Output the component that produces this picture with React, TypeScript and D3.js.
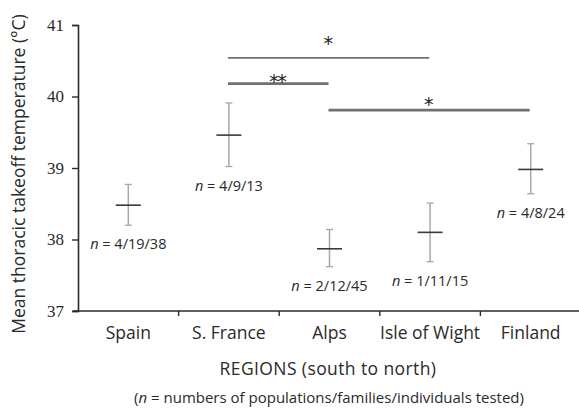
import React, { useEffect, useRef } from 'react';
import * as d3 from 'd3';

const regions = ['Spain', 'S. France', 'Alps', 'Isle of Wight', 'Finland'];
const means = [38.48, 39.46, 37.87, 38.1, 38.98];
const lowers = [38.2, 39.02, 37.62, 37.69, 38.64];
const uppers = [38.77, 39.91, 38.14, 38.51, 39.34];
const sampleLabels = ['4/19/38', '4/9/13', '2/12/45', '1/11/15', '4/8/24'];
const yTicks = [37, 38, 39, 40, 41];

// significance brackets: from region, to region, level, stars
const sigFrom = ['S. France', 'S. France', 'Alps'];
const sigTo = ['Isle of Wight', 'Alps', 'Finland'];
const sigLevel = [40.54, 40.18, 39.81];
const sigStars = ['*', '**', '*'];

export default () => {
  const svgRef = useRef<SVGSVGElement>(null);

  useEffect(() => {
    if (!svgRef.current) return;
    const svg = d3.select(svgRef.current);
    svg.selectAll('*').remove();

    const sans = '"Open Sans", sans-serif';
    const ink = '#2a2a2a';

    const x = d3.scaleBand().domain(regions).range([78, 581]).padding(0);
    const y = d3.scaleLinear().domain([37, 41]).range([311, 25]);
    const cx = (r: string) => (x(r) || 0) + x.bandwidth() / 2;

    // y axis
    const yAxis = d3.axisLeft(y).tickValues(yTicks).tickSize(6).tickPadding(8).tickFormat(d3.format('d'));
    const gy = svg.append('g').attr('transform', 'translate(78,0)').call(yAxis);
    gy.select('.domain').attr('stroke', ink).attr('stroke-width', 1.6);
    gy.selectAll('.tick line').attr('stroke', ink).attr('stroke-width', 1.4);
    gy.selectAll('.tick text')
      .attr('fill', ink)
      .style('font-family', '"Liberation Serif", serif')
      .style('font-size', '17px');

    // x axis
    const gx = svg.append('g').attr('transform', 'translate(0,311)');
    gx.append('line').attr('x1', 73).attr('x2', 581).attr('stroke', ink).attr('stroke-width', 1.6);
    gx.selectAll('line.b')
      .data(regions.slice(1))
      .enter()
      .append('line')
      .attr('x1', d => x(d) || 0)
      .attr('x2', d => x(d) || 0)
      .attr('y1', 0)
      .attr('y2', 5)
      .attr('stroke', ink)
      .attr('stroke-width', 1.4);
    gx.selectAll('text')
      .data(regions)
      .enter()
      .append('text')
      .attr('x', d => cx(d))
      .attr('y', 28)
      .attr('text-anchor', 'middle')
      .attr('fill', ink)
      .style('font-family', sans)
      .style('font-size', '17.5px')
      .text(d => d);

    // axis titles
    svg.append('text')
      .attr('transform', 'translate(25,174) rotate(-90)')
      .attr('text-anchor', 'middle')
      .attr('fill', ink)
      .style('font-family', sans)
      .style('font-size', '17.5px')
      .text('Mean thoracic takeoff temperature (°C)');

    svg.append('text')
      .attr('x', 328)
      .attr('y', 375)
      .attr('text-anchor', 'middle')
      .attr('fill', ink)
      .attr('letter-spacing', '0.4px')
      .style('font-family', sans)
      .style('font-size', '17.5px')
      .text('REGIONS (south to north)');

    const note = svg.append('text')
      .attr('x', 329)
      .attr('y', 403)
      .attr('text-anchor', 'middle')
      .attr('fill', ink)
      .style('font-family', sans)
      .style('font-size', '15px');
    note.append('tspan').text('(');
    note.append('tspan').style('font-style', 'italic').text('n');
    note.append('tspan').text(' = numbers of populations/families/individuals tested)');

    // error bars
    const g = svg.append('g')
      .selectAll('g')
      .data(regions)
      .enter()
      .append('g')
      .attr('transform', d => `translate(${cx(d)},0)`);

    g.append('line')
      .attr('y1', (d, i) => y(lowers[i]))
      .attr('y2', (d, i) => y(uppers[i]))
      .attr('stroke', '#a8a8a8')
      .attr('stroke-width', 1.5);
    [lowers, uppers].forEach(arr => {
      g.append('line')
        .attr('x1', -3.5)
        .attr('x2', 3.5)
        .attr('y1', (d, i) => y(arr[i]))
        .attr('y2', (d, i) => y(arr[i]))
        .attr('stroke', '#a8a8a8')
        .attr('stroke-width', 1.3);
    });
    g.append('line')
      .attr('x1', -12.5)
      .attr('x2', 12.5)
      .attr('y1', (d, i) => y(means[i]))
      .attr('y2', (d, i) => y(means[i]))
      .attr('stroke', '#3a3a3a')
      .attr('stroke-width', 1.6);

    const lbl = g.append('text')
      .attr('y', (d, i) => y(lowers[i]) + 24)
      .attr('text-anchor', 'middle')
      .attr('fill', ink)
      .style('font-family', sans)
      .style('font-size', '14.5px');
    lbl.append('tspan').style('font-style', 'italic').text('n');
    lbl.append('tspan').text((d, i) => ' = ' + sampleLabels[i]);

    // significance bars, star baseline offset from the bar
    const starDy = [-8, 4, 1];
    const sig = svg.append('g')
      .selectAll('g')
      .data(sigStars)
      .enter()
      .append('g');
    sig.append('line')
      .attr('x1', (d, i) => cx(sigFrom[i]) - 1)
      .attr('x2', (d, i) => cx(sigTo[i]) - 1)
      .attr('y1', (d, i) => y(sigLevel[i]))
      .attr('y2', (d, i) => y(sigLevel[i]))
      .attr('stroke', '#707070')
      .attr('stroke-width', (d, i) => (i === 0 ? 1.6 : 2.8));
    sig.append('text')
      .attr('x', (d, i) => (cx(sigFrom[i]) + cx(sigTo[i])) / 2 - 2)
      .attr('y', (d, i) => y(sigLevel[i]) + starDy[i])
      .attr('text-anchor', 'middle')
      .attr('fill', '#222')
      .style('font-family', '"DejaVu Sans", sans-serif')
      .style('font-size', '19px')
      .attr('letter-spacing', '-1.5px')
      .text(d => d);
  }, []);

  return <svg ref={svgRef} width={579} height={408} style={{ position: 'absolute', left: 0, top: 0 }} />;
};
